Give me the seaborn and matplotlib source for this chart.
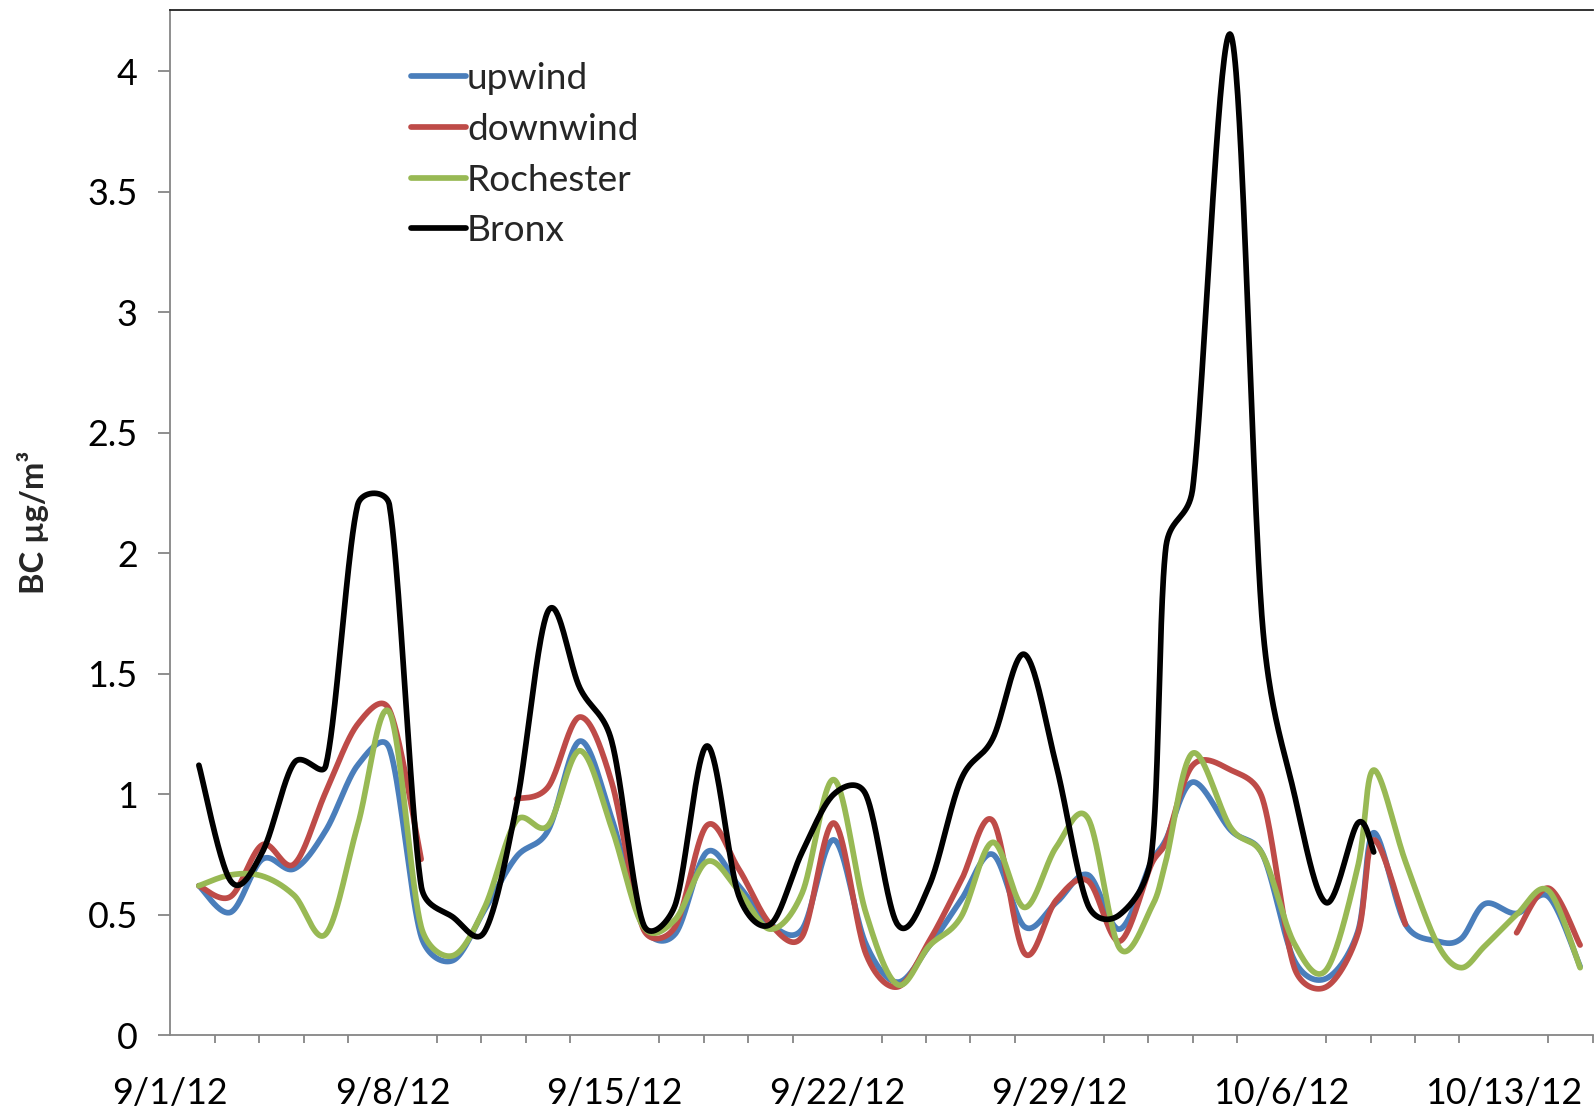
import numpy as np
import pandas as pd
import matplotlib
matplotlib.use("Agg")
import matplotlib.pyplot as plt
import seaborn as sns
from matplotlib.lines import Line2D

# sample positions, days after 9/1/12
days = [0.9, 1.9, 2.9, 3.9, 4.9, 5.9, 6.9, 7.9, 8.9, 9.9,
        10.9, 11.9, 12.9, 13.9, 14.9, 15.9, 16.9, 17.9, 18.9, 19.9,
        20.9, 21.9, 22.9, 23.9, 24.9, 25.9, 26.9, 27.9, 28.9, 29.9,
        30.9, 31.35, 32.2, 33.4, 34.4, 35.4, 36.4, 37.4, 37.9, 38.9,
        39.9, 40.65, 41.4, 42.4, 43.4, 44.4]

nan = np.nan
upwind = [0.62, 0.51, 0.73, 0.69, 0.85, 1.12, 1.19, 0.41, 0.31, 0.52,
          0.74, 0.85, 1.22, 0.90, 0.45, 0.42, 0.76, 0.62, 0.46, 0.44,
          0.81, 0.38, 0.22, 0.37, 0.56, 0.75, 0.45, 0.55, 0.665, 0.44,
          0.72, 0.81, 1.05, 0.85, 0.75, 0.31, 0.235, 0.43, 0.84, 0.46,
          0.39, 0.40, 0.545, 0.505, 0.575, 0.285]
downwind = [0.62, 0.575, 0.79, 0.71, 1.01, 1.29, 1.35, 0.73, nan, nan,
            0.98, 1.03, 1.32, 1.05, 0.44, 0.45, 0.87, 0.69, 0.46, 0.41,
            0.88, 0.34, 0.20, 0.39, 0.64, 0.89, 0.34, 0.56, 0.64, 0.39,
            0.71, 0.80, 1.12, 1.10, 0.98, 0.28, 0.20, 0.42, 0.81, 0.46,
            nan, nan, nan, 0.425, 0.61, 0.374]
rochester = [0.62, 0.665, 0.66, 0.58, 0.42, 0.87, 1.34, 0.45, 0.33, 0.53,
             0.89, 0.87, 1.18, 0.86, 0.45, 0.48, 0.72, 0.60, 0.44, 0.59,
             1.06, 0.51, 0.21, 0.37, 0.49, 0.80, 0.53, 0.78, 0.90, 0.36,
             0.53, 0.72, 1.17, 0.86, 0.75, 0.38, 0.27, 0.70, 1.10, 0.72,
             0.38, 0.28, 0.37, 0.50, 0.60, 0.28]
bronx = [1.12, 0.64, 0.76, 1.13, 1.12, 2.20, 2.20, 0.62, 0.49, 0.43,
         0.95, 1.76, 1.44, 1.22, 0.46, 0.54, 1.20, 0.58, 0.46, 0.76,
         1.00, 1.00, 0.46, 0.62, 1.06, 1.23, 1.58, 1.12, 0.54, 0.50,
         0.75, 2.02, 2.27, 4.15, 1.70, 1.00, 0.55, 0.88, 0.76, nan,
         nan, nan, nan, nan, nan, nan]

sites = ["upwind", "downwind", "Rochester", "Bronx"]
colors = ["#4A7EBB", "#BE4B48", "#98B954", "#000000"]

tick_days = [0, 7, 14, 21, 28, 35, 42]
tick_labels = ["9/1/12", "9/8/12", "9/15/12", "9/22/12", "9/29/12", "10/6/12", "10/13/12"]
y_ticks = [0, 0.5, 1, 1.5, 2, 2.5, 3, 3.5, 4]
y_labels = ["0", "0.5", "1", "1.5", "2", "2.5", "3", "3.5", "4"]

FIG_W, FIG_H, DPI = 15.96, 11.15, 100
AX_RECT = [0.1067, 0.0716, 0.8913, 0.9193]
XMAX, YMAX = 44.8, 4.253
# pixel scale of the axes, used so the smoothing works in screen space like Excel
SX = FIG_W * DPI * AX_RECT[2] / XMAX
SY = FIG_H * DPI * AX_RECT[3] / YMAX


def smooth(xs, ys, steps=40):
    # Excel style smoothed line: bezier through the points with the control
    # arms capped at half the segment length, broken where a value is missing
    rows = []
    seg, cur = 0, []
    pts = list(zip(xs, ys)) + [(nan, nan)]
    for x, y in pts:
        if np.isnan(y):
            if len(cur) > 1:
                P = np.array(cur) * [SX, SY]
                k = len(P)
                for i in range(k - 1):
                    p0 = P[i - 1] if i > 0 else P[i]
                    p1, p2 = P[i], P[i + 1]
                    p3 = P[i + 2] if i + 2 < k else P[i + 1]
                    d12 = np.hypot(*(p2 - p1))
                    d02 = np.hypot(*(p2 - p0))
                    d13 = np.hypot(*(p3 - p1))
                    f1 = min(1 / 6, d12 / (2 * d02)) if d02 > 0 else 0
                    f2 = min(1 / 6, d12 / (2 * d13)) if d13 > 0 else 0
                    c1 = p1 + (p2 - p0) * f1
                    c2 = p2 - (p3 - p1) * f2
                    s = np.linspace(0, 1, steps)[:, None]
                    b = ((1 - s) ** 3) * p1 + 3 * ((1 - s) ** 2) * s * c1 \
                        + 3 * (1 - s) * s ** 2 * c2 + s ** 3 * p2
                    for bx, by in b:
                        rows.append((seg, bx / SX, by / SY))
            seg += 1
            cur = []
        else:
            cur.append((x, y))
    return rows


frames = []
for name, vals in zip(sites, [upwind, downwind, rochester, bronx]):
    d = pd.DataFrame(smooth(days, vals), columns=["seg", "x", "y"])
    d["site"] = name
    d["unit"] = name + d["seg"].astype(str)
    frames.append(d)
curves = pd.concat(frames, ignore_index=True)

sns.set_style("white")
plt.rcParams["font.family"] = ["Lato", "DejaVu Sans"]

fig = plt.figure(figsize=(FIG_W, FIG_H), dpi=DPI)
ax = fig.add_axes(AX_RECT)

sns.lineplot(data=curves, x="x", y="y", hue="site", hue_order=sites,
             units="unit", estimator=None, sort=False,
             palette=dict(zip(sites, colors)), linewidth=4.1,
             legend=False, ax=ax)

ax.set_xlim(0, XMAX)
ax.set_ylim(0, YMAX)
ax.set_xticks(tick_days)
ax.set_xticklabels(tick_labels)
ax.set_xticks(np.arange(0, XMAX + 0.01, 1.4), minor=True)
ax.set_yticks(y_ticks)
ax.set_yticklabels(y_labels)
ax.set_xlabel("")
ax.set_ylabel("BC µg/m³", fontsize=23.5, fontweight="bold")
ax.yaxis.set_label_coords(-0.085, 0.5)

grey = "#868686"
for side in ["left", "bottom"]:
    ax.spines[side].set_color(grey)
    ax.spines[side].set_linewidth(1.3)
ax.spines["right"].set_visible(False)
ax.spines["top"].set_color("#222222")
ax.spines["top"].set_linewidth(1.3)

ax.tick_params(axis="both", which="major", direction="out", color=grey,
               width=1.3, length=9, labelsize=25.8, labelcolor="black")
ax.tick_params(axis="x", which="major", pad=21)
ax.tick_params(axis="y", which="major", pad=14.5, left=True)
ax.tick_params(axis="x", which="minor", direction="out", color=grey,
               width=1.3, length=6, bottom=True)

handles = [Line2D([0], [0], color=c, lw=4.1) for c in colors]
ax.legend(handles, sites, loc="upper left", bbox_to_anchor=(0.1695, 0.949),
          frameon=False, fontsize=26.7, handlelength=1.48, handletextpad=0.02,
          labelspacing=0.475, borderaxespad=0, borderpad=0)

fig.savefig("out.png", dpi=DPI)
